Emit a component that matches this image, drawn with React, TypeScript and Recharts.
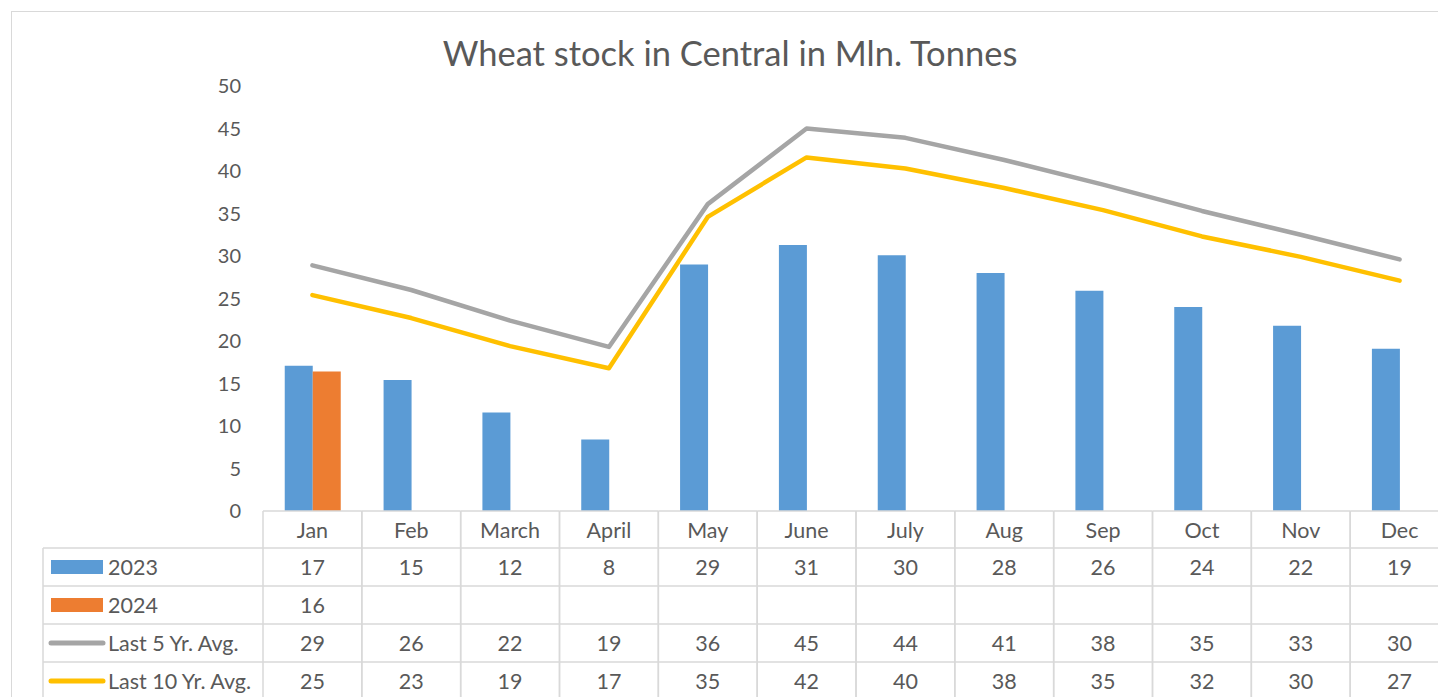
import React from "react";
import { ComposedChart, Bar, Line, XAxis, YAxis } from "recharts";

const months = ["Jan", "Feb", "March", "April", "May", "June", "July", "Aug", "Sep", "Oct", "Nov", "Dec"];
const stock2023 = [17.1, 15.4, 11.6, 8.4, 29.0, 31.3, 30.1, 28.0, 25.9, 24.0, 21.8, 19.1];
const stock2024: (number | null)[] = [16.4, null, null, null, null, null, null, null, null, null, null, null];
const avg5 = [28.9, 26.0, 22.4, 19.3, 36.1, 45.0, 43.9, 41.3, 38.4, 35.3, 32.5, 29.6];
const avg10 = [25.4, 22.7, 19.4, 16.8, 34.6, 41.6, 40.3, 38.0, 35.4, 32.3, 29.9, 27.1];
const yTicks = [0, 5, 10, 15, 20, 25, 30, 35, 40, 45, 50];

const series = [
  { key: "s2023", name: "2023", color: "#5B9BD5", kind: "bar" },
  { key: "s2024", name: "2024", color: "#ED7D31", kind: "bar" },
  { key: "avg5", name: "Last 5 Yr. Avg.", color: "#A5A5A5", kind: "line" },
  { key: "avg10", name: "Last 10 Yr. Avg.", color: "#FFC000", kind: "line" },
];

const data = months.map((m, i) => ({
  month: m,
  s2023: stock2023[i],
  s2024: stock2024[i],
  avg5: avg5[i],
  avg10: avg10[i],
}));

const FONT = "Lato, 'Open Sans', sans-serif";
const TEXT = "#595959";
const GRID = "#D9D9D9";
const PLOT_LEFT = 263;
const PLOT_RIGHT = 1449;
const COL_W = (PLOT_RIGHT - PLOT_LEFT) / months.length;
const HEADER_H = 37;
const ROW_H = 38;
const LEGEND_LEFT = 43;
const TABLE_FS = 21.5;

function fmt(v: number | null) {
  return v == null ? "" : String(Math.round(v));
}

function TableTick(props: any) {
  const { x, y, payload } = props;
  const i = payload.index;
  const row = data[i] as any;
  const left = x - COL_W / 2;
  const right = x + COL_W / 2;
  const bottom = y + HEADER_H + ROW_H * series.length + 10;
  return (
    <g>
      <line x1={left} y1={y} x2={left} y2={bottom} stroke={GRID} strokeWidth={1.5} />
      <line x1={right} y1={y} x2={right} y2={bottom} stroke={GRID} strokeWidth={1.5} />
      <line x1={left} y1={y} x2={right} y2={y} stroke={GRID} strokeWidth={1.5} />
      {series.map((s, r) => (
        <line key={s.key} x1={left} y1={y + HEADER_H + ROW_H * r} x2={right} y2={y + HEADER_H + ROW_H * r} stroke={GRID} strokeWidth={1.5} />
      ))}
      <text x={x} y={y + HEADER_H / 2} textAnchor="middle" dominantBaseline="central" fill={TEXT} fontSize={TABLE_FS} fontFamily={FONT}>
        {payload.value}
      </text>
      {series.map((s, r) => (
        <text key={s.key} x={x} y={y + HEADER_H + ROW_H * r + ROW_H / 2} textAnchor="middle" dominantBaseline="central" fill={TEXT} fontSize={TABLE_FS} fontFamily={FONT}>
          {fmt(row[s.key])}
        </text>
      ))}
      {i === 0 && (
        <g>
          <line x1={LEGEND_LEFT} y1={y + HEADER_H} x2={LEGEND_LEFT} y2={bottom} stroke={GRID} strokeWidth={1.5} />
          {series.map((s, r) => {
            const cy = y + HEADER_H + ROW_H * r + ROW_H / 2;
            return (
              <g key={s.key}>
                <line x1={LEGEND_LEFT} y1={y + HEADER_H + ROW_H * r} x2={left} y2={y + HEADER_H + ROW_H * r} stroke={GRID} strokeWidth={1.5} />
                {s.kind === "bar" ? (
                  <rect x={51} y={cy - 7} width={52} height={14} fill={s.color} />
                ) : (
                  <line x1={51} y1={cy} x2={103} y2={cy} stroke={s.color} strokeWidth={5} strokeLinecap="round" />
                )}
                <text x={108} y={cy} dominantBaseline="central" fill={TEXT} fontSize={TABLE_FS} fontFamily={FONT}>
                  {s.name}
                </text>
              </g>
            );
          })}
        </g>
      )}
    </g>
  );
}

export default function App() {
  return (
    <div style={{ position: "absolute", left: 0, top: 0, width: 1438, height: 697, overflow: "hidden", background: "#fff" }}>
      <div style={{ position: "absolute", left: 11, top: 11, width: 1500, height: 800, borderLeft: `1.5px solid ${GRID}`, borderTop: `1.5px solid ${GRID}` }} />
      <div style={{ position: "absolute", left: 0, top: 32, width: 1460, textAlign: "center", fontFamily: FONT, fontSize: 34.5, color: TEXT }}>
        Wheat stock in Central in Mln. Tonnes
      </div>
      <div style={{ position: "absolute", left: 0, top: 0 }}>
        <ComposedChart
          width={1470}
          height={720}
          data={data}
          margin={{ top: 86, right: 1470 - PLOT_RIGHT, bottom: 19, left: PLOT_LEFT - 60 }}
          barCategoryGap="22%"
          barGap={0}
        >
          <XAxis
            dataKey="month"
            axisLine={false}
            tickLine={false}
            tickSize={0}
            tickMargin={0}
            height={190}
            interval={0}
            tick={<TableTick />}
          />
          <YAxis
            width={60}
            domain={[0, 50]}
            ticks={yTicks}
            axisLine={false}
            tickLine={false}
            tickMargin={16}
            tick={{ fill: TEXT, fontSize: 20, fontFamily: FONT }}
          />
          <Bar dataKey="s2023" name="2023" fill="#5B9BD5" isAnimationActive={false} />
          <Bar dataKey="s2024" name="2024" fill="#ED7D31" isAnimationActive={false} />
          <Line dataKey="avg5" name="Last 5 Yr. Avg." stroke="#A5A5A5" strokeWidth={4.5} strokeLinecap="round" strokeLinejoin="round" dot={false} isAnimationActive={false} />
          <Line dataKey="avg10" name="Last 10 Yr. Avg." stroke="#FFC000" strokeWidth={4.5} strokeLinecap="round" strokeLinejoin="round" dot={false} isAnimationActive={false} />
        </ComposedChart>
      </div>
    </div>
  );
}
